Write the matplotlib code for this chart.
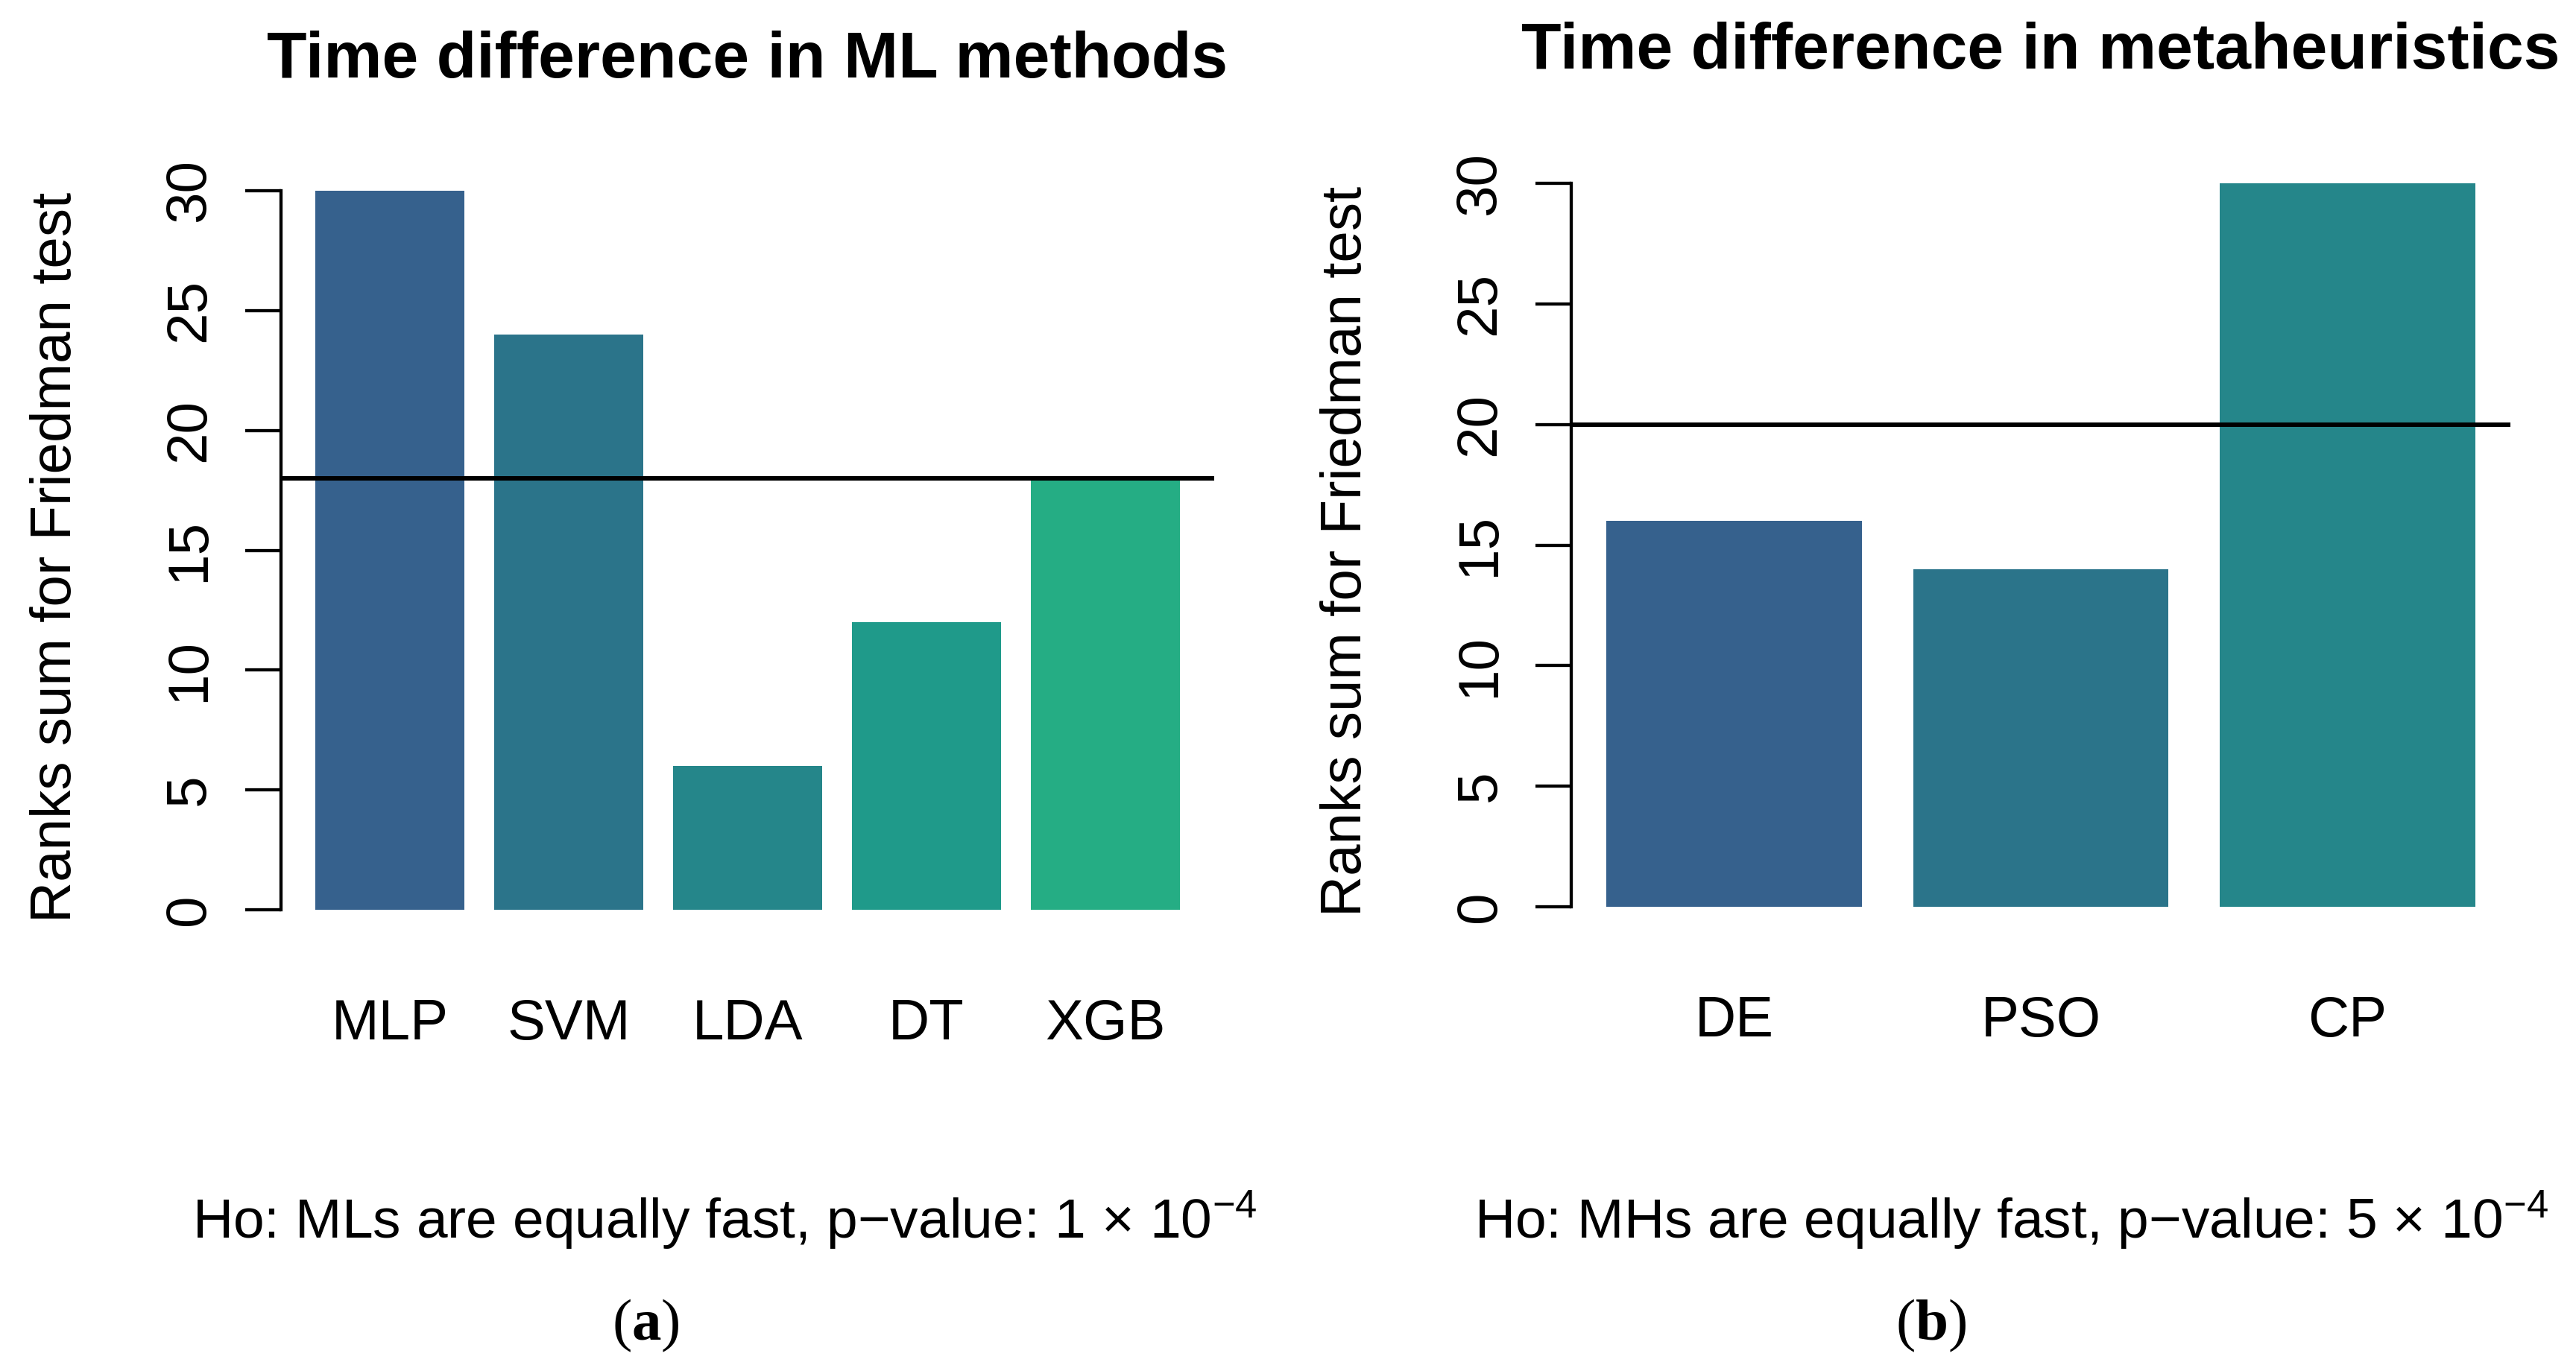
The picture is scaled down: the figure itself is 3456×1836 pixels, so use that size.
import matplotlib
matplotlib.use("Agg")
import matplotlib.pyplot as plt
from matplotlib.transforms import blended_transform_factory

plt.rcParams['font.family'] = ['Liberation Sans', 'DejaVu Sans']
plt.rcParams['mathtext.fontset'] = 'custom'
plt.rcParams['mathtext.rm'] = 'Liberation Sans'
plt.rcParams['mathtext.it'] = 'Liberation Sans:italic'
plt.rcParams['mathtext.bf'] = 'Liberation Serif:bold'

# data
ml_methods = ['MLP', 'SVM', 'LDA', 'DT', 'XGB']
ml_ranks = [30, 24, 6, 12, 18]
ml_critical = 18
ml_colors = ['#36618D', '#2B748A', '#25868A', '#1F9A8A', '#25AD84']

mh_methods = ['DE', 'PSO', 'CP']
mh_ranks = [16, 14, 30]
mh_critical = 20
mh_colors = ['#36618D', '#2B748A', '#25868A']

yticks = [0, 5, 10, 15, 20, 25, 30]
titles = ['Time difference in ML methods', 'Time difference in metaheuristics']
subs = ['Ho: MLs are equally fast, p\u2212value: 1 \u00d7 10$^{\u22124}$',
        'Ho: MHs are equally fast, p\u2212value: 5 \u00d7 10$^{\u22124}$']
panel_tags = ['($\\mathbf{a}$)', '($\\mathbf{b}$)']
ylab = 'Ranks sum for Friedman test'

W, H = 3456, 1836
fig = plt.figure(figsize=(W / 100, H / 100), dpi=100)


def px(x, y):
    return x / W, 1 - y / H


def box(l, t, r, b):
    return [l / W, 1 - b / H, (r - l) / W, (b - t) / H]


def rplot_bar(rect, names, values, colors, crit):
    # mimic R's barplot(): width 1, space 0.2, 4% axis extension
    ax = fig.add_axes(rect)
    n = len(names)
    centers = [0.7 + 1.2 * i for i in range(n)]
    ax.bar(centers, values, width=1.0, color=colors, edgecolor='none')
    lo, hi = 0.2, 1.2 * n
    ext = (hi - lo) * 0.04
    ax.set_xlim(lo - ext, hi + ext)
    ax.set_ylim(-1.2, 31.2)
    ax.axhline(crit, color='black', lw=4.3)
    for s in ['top', 'right', 'bottom']:
        ax.spines[s].set_visible(False)
    ax.spines['left'].set_bounds(0, 30)
    ax.spines['left'].set_linewidth(3.1)
    ax.set_xticks([])
    ax.set_yticks(yticks)
    ax.set_yticklabels([str(t) for t in yticks], rotation=90, va='center')
    ax.tick_params(axis='y', length=34.5, width=3.1, pad=28, labelsize=55)
    return ax, centers


axL, cL = rplot_bar(box(376.6, 217.4, 1629.4, 1259.6),
                    ml_methods, ml_ranks, ml_colors, ml_critical)
axR, cR = rplot_bar(box(2108.4, 207.2, 3367.6, 1255.8),
                    mh_methods, mh_ranks, mh_colors, mh_critical)

for ax, names, centers, yb in [(axL, ml_methods, cL, 1395), (axR, mh_methods, cR, 1391)]:
    tr = blended_transform_factory(ax.transData, fig.transFigure)
    for c, name in zip(centers, names):
        ax.text(c, 1 - yb / H, name, transform=tr, ha='center', va='baseline', fontsize=55)

# titles
fig.text(*px(1003, 104), titles[0], ha='center', va='baseline', fontsize=63.2, fontweight='bold')
fig.text(*px(2738, 92), titles[1], ha='center', va='baseline', fontsize=63.2, fontweight='bold')

# y labels
fig.text(*px(95, 748), ylab, rotation=90, rotation_mode='anchor',
         ha='center', va='baseline', fontsize=55)
fig.text(*px(1826, 740), ylab, rotation=90, rotation_mode='anchor',
         ha='center', va='baseline', fontsize=55)

# subtitles
fig.text(*px(972, 1662), subs[0], ha='center', va='baseline', fontsize=54)
fig.text(*px(2699, 1662), subs[1], ha='center', va='baseline', fontsize=54)

# panel tags
fig.text(*px(866, 1798), panel_tags[0], ha='center', va='baseline', fontsize=57,
         family='Liberation Serif')
fig.text(*px(2591, 1798), panel_tags[1], ha='center', va='baseline', fontsize=57,
         family='Liberation Serif')

fig.savefig('out.png', dpi=100, facecolor='white')
